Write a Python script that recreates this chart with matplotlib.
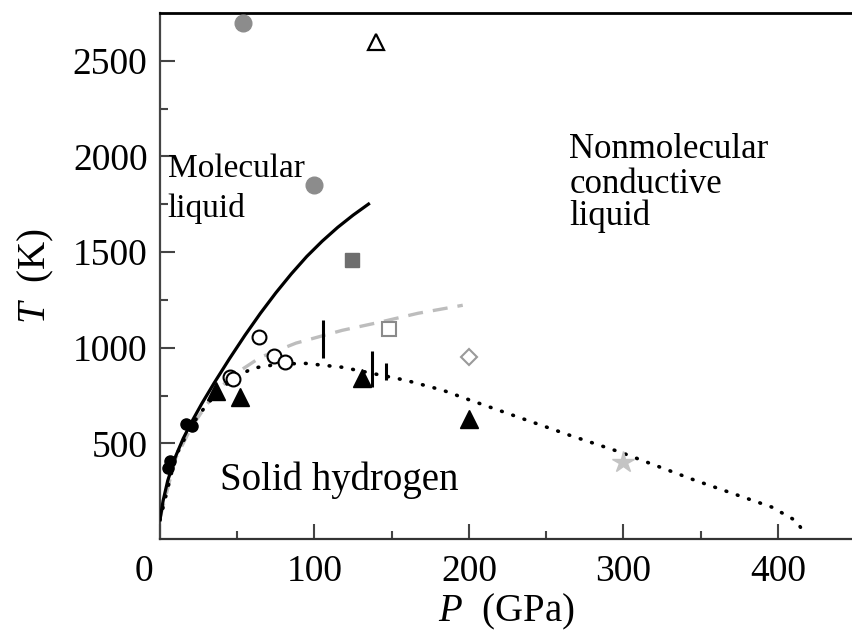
import matplotlib.pyplot as plt
from matplotlib.transforms import ScaledTranslation

plt.rcParams['font.family'] = ['Liberation Serif', 'DejaVu Serif']
plt.rcParams['mathtext.fontset'] = 'custom'
plt.rcParams['mathtext.it'] = 'Liberation Serif:italic'
plt.rcParams['mathtext.rm'] = 'Liberation Serif'

# melting line (solid black)
melt_p = [0, 2, 5, 10, 15, 20, 27, 35, 45, 55, 65, 75, 85, 95, 105, 115, 125, 135]
melt_t = [100, 200, 305, 430, 525, 605, 707, 815, 943, 1065, 1180, 1287, 1386, 1477,
          1557, 1629, 1693, 1751]

# gray dashed boundary
dash_p = [0, 10, 20, 30, 40, 50, 65, 88, 118, 142, 167, 196]
dash_t = [110, 420, 580, 700, 800, 870, 950, 1024, 1091, 1133, 1180, 1222]

# dotted boundary
dot_p = [0, 10, 20, 30, 40, 50, 60, 75, 93, 118, 159, 183, 199, 232, 265, 298, 346, 396, 412, 418]
dot_t = [100, 430, 590, 700, 790, 850, 893, 912, 919, 898, 830, 778, 731, 637, 543, 454, 308, 167, 94, 20]

# measured points
gray_circ_p = [54, 100]
gray_circ_t = [2700, 1850]
open_tri_p = [140]
open_tri_t = [2600]
gray_sq_p = [124]
gray_sq_t = [1460]
open_sq_p = [148]
open_sq_t = [1100]
diamond_p = [200]
diamond_t = [950]
star_p = [300]
star_t = [400]
tri_p = [36, 52, 131, 200]
tri_t = [775, 745, 840, 625]
open_circ_p = [45, 47, 64, 74, 81]
open_circ_t = [845, 835, 1055, 956, 924]
dots_p = [5, 6.5, 17, 21]
dots_t = [370, 410, 600, 590]

# vertical bars
bar_p = [105.5, 137, 146]
bar_lo = [945, 794, 830]
bar_hi = [1144, 982, 919]

fig = plt.figure(figsize=(8.52, 6.36), dpi=100)
ax = fig.add_axes([0.1878, 0.1525, 0.8122, 0.8271])

ax.plot(melt_p, melt_t, color='black', lw=2.3, zorder=3)
ax.plot(dash_p, dash_t, color='#bdbdbd', lw=2.4, dashes=(4.5, 3), zorder=2)
ax.plot(dot_p, dot_t, color='black', lw=2.6, dashes=(0.2, 3.1),
        dash_capstyle='round', zorder=2)
ax.vlines(bar_p, bar_lo, bar_hi, colors='black', lw=2.2, zorder=4)

ax.plot(gray_circ_p, gray_circ_t, 'o', ms=12, color='#8c8c8c', mec='#8c8c8c', zorder=5)
ax.plot(open_tri_p, open_tri_t, '^', ms=12, mfc='white', mec='black', mew=1.6, zorder=5)
ax.plot(gray_sq_p, gray_sq_t, 's', ms=10.5, color='#6e6e6e', zorder=5)
ax.plot(open_sq_p, open_sq_t, 's', ms=9.5, mfc='white', mec='#8a8a8a', mew=1.5, zorder=5)
ax.plot(diamond_p, diamond_t, 'D', ms=8, mfc='white', mec='#9a9a9a', mew=1.5, zorder=5)
ax.plot(star_p, star_t, '*', ms=16, color='#c4c4c4', zorder=5)
ax.plot(tri_p, tri_t, '^', ms=13, color='black', zorder=5)
ax.plot(open_circ_p, open_circ_t, 'o', ms=10, mfc='white', mec='black', mew=1.5, zorder=5)
ax.plot(dots_p, dots_t, 'o', ms=8, color='black', zorder=5)

ax.set_xlim(0, 448)
ax.set_ylim(0, 2750)
ax.set_xticks([0, 100, 200, 300, 400])
ax.set_xticks([50, 150, 250, 350], minor=True)
ax.set_yticks([500, 1000, 1500, 2000, 2500])
ax.set_yticks([750, 1250, 1750, 2250], minor=True)

ax.spines['right'].set_visible(False)
ax.spines['top'].set_linewidth(2.0)
ax.spines['left'].set_linewidth(1.6)
ax.spines['left'].set_color('#444444')
ax.spines['bottom'].set_linewidth(1.6)
ax.spines['bottom'].set_color('#333333')

ax.tick_params(which='both', direction='in', top=False, right=False,
               width=1.5, color='#444444')
ax.tick_params(which='major', length=11, labelsize=27)
ax.tick_params(which='minor', length=5.5)
ax.tick_params(axis='y', pad=9)
ax.tick_params(axis='x', pad=11)

# nudge the "0" so it clears the vertical axis
fig.canvas.draw()
zero = ax.get_xticklabels()[0]
zero.set_transform(zero.get_transform() + ScaledTranslation(-0.16, 0, fig.dpi_scale_trans))

ax.set_xlabel(r'$P$  (GPa)', fontsize=28, labelpad=2)
ax.set_ylabel(r'$T$  (K)', fontsize=28, labelpad=12)

ax.text(5, 1890, 'Molecular', fontsize=24, va='baseline', zorder=6)
ax.text(5, 1681, 'liquid', fontsize=24, va='baseline', zorder=6)
ax.text(265, 1990, 'Nonmolecular', fontsize=25, va='baseline')
ax.text(265, 1807, 'conductive', fontsize=25, va='baseline')
ax.text(265, 1640, 'liquid', fontsize=25, va='baseline')
ax.text(38.8, 256, 'Solid hydrogen', fontsize=28, va='baseline')

fig.savefig('out.png', dpi=100)
